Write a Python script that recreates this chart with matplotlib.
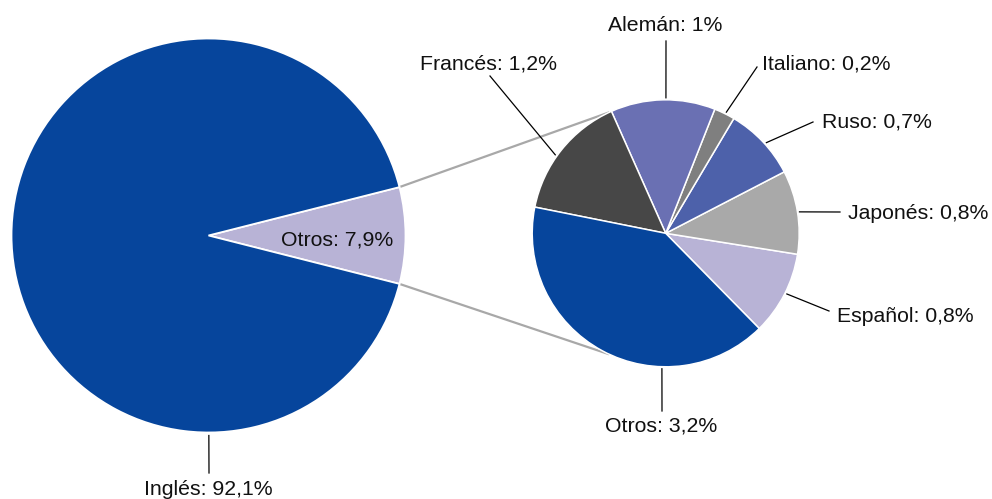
import numpy as np
import matplotlib
matplotlib.use("Agg")
import matplotlib.pyplot as plt

plt.rcParams['font.family'] = ['Liberation Sans', 'DejaVu Sans']

# ---- data ----
main_labels = ["Otros", "Inglés"]
main_values = [7.9, 92.1]
main_colors = ["#B8B3D6", "#06459C"]

sub_labels = ["Español", "Japonés", "Ruso", "Italiano", "Alemán", "Francés", "Otros"]
sub_values = [0.8, 0.8, 0.7, 0.2, 1.0, 1.2, 3.2]
sub_texts = ["0,8%", "0,8%", "0,7%", "0,2%", "1%", "1,2%", "3,2%"]
sub_colors = ["#B8B3D6", "#A9A9A9", "#4D61AA", "#7F7F7F", "#6A70B3", "#474747", "#06459C"]

main_texts = ["7,9%", "92,1%"]

# ---- layout (pixel coordinates, y measured from top) ----
W, H = 992, 499
def Y(y):
    return H - y

big_c = (208.5, 235.5); big_r = 197
small_c = (665.7, 233.3); small_r = 133.5
small_start = -45.5

fig = plt.figure(figsize=(W / 100, H / 100), dpi=100)
ax = fig.add_axes([0, 0, 1, 1])

half = main_values[0] / sum(main_values) * 360 / 2
ax.pie(main_values, colors=main_colors, startangle=-half, counterclock=True,
       center=(big_c[0], Y(big_c[1])), radius=big_r,
       wedgeprops=dict(edgecolor="white", linewidth=1.3))
ax.pie(sub_values, colors=sub_colors, startangle=small_start, counterclock=True,
       center=(small_c[0], Y(small_c[1])), radius=small_r,
       wedgeprops=dict(edgecolor="white", linewidth=1.1))

# connector lines
for sgn in (1, -1):
    a1 = np.deg2rad(sgn * half)
    p1 = (big_c[0] + big_r * np.cos(a1), Y(big_c[1]) + big_r * np.sin(a1))
    a2 = np.deg2rad(sgn * 115)
    p2 = (small_c[0] + small_r * np.cos(a2), Y(small_c[1]) + small_r * np.sin(a2))
    ax.plot([p1[0], p2[0]], [p1[1], p2[1]], color="#A8A8A8", lw=1.6,
            solid_capstyle="butt", zorder=0.5)

FS = 15.3
TC = "#111111"

# sub pie labels: (text x, baseline y, ha, leader end x, leader end y, anchor angle)
sub_layout = {
    "Español": (837, 322, "left", 829, 311, -26.6),
    "Japonés": (848, 219, "left", 840, 212, 9.1),
    "Ruso": (822, 127, "left", 813, 122, 42),
    "Italiano": (762, 69, "left", 757, 67, 63.4),
    "Alemán": (665.5, 31, "center", 666, 41, 89.9),
    "Francés": (557, 69, "right", 490, 76, 144.6),
    "Otros": (661, 432, "center", 662, 411, -91.6),
}
for lab, txt in zip(sub_labels, sub_texts):
    tx, ty, ha, ex, ey, ang = sub_layout[lab]
    a = np.deg2rad(ang)
    sx = small_c[0] + (small_r + 2) * np.cos(a)
    sy = Y(small_c[1]) + (small_r + 2) * np.sin(a)
    ax.plot([sx, ex], [sy, Y(ey)], color="black", lw=0.9)
    ax.text(tx, Y(ty), f"{lab}: {txt}", ha=ha, va="baseline", fontsize=FS, color=TC)

# main pie labels
ax.text(337.5, Y(245.5), f"{main_labels[0]}: {main_texts[0]}", ha="center",
        va="baseline", fontsize=FS, color=TC)
a = np.deg2rad(-89.9)
sx = big_c[0] + (big_r + 3) * np.cos(a)
sy = Y(big_c[1]) + (big_r + 3) * np.sin(a)
ax.plot([sx, 209], [sy, Y(473)], color="black", lw=0.9)
ax.text(208.5, Y(495), f"{main_labels[1]}: {main_texts[1]}", ha="center",
        va="baseline", fontsize=FS, color=TC)

ax.set_xlim(0, W)
ax.set_ylim(0, H)
ax.set_aspect("equal", adjustable="box")
ax.axis("off")

fig.savefig("out.png", dpi=100, facecolor="white")
